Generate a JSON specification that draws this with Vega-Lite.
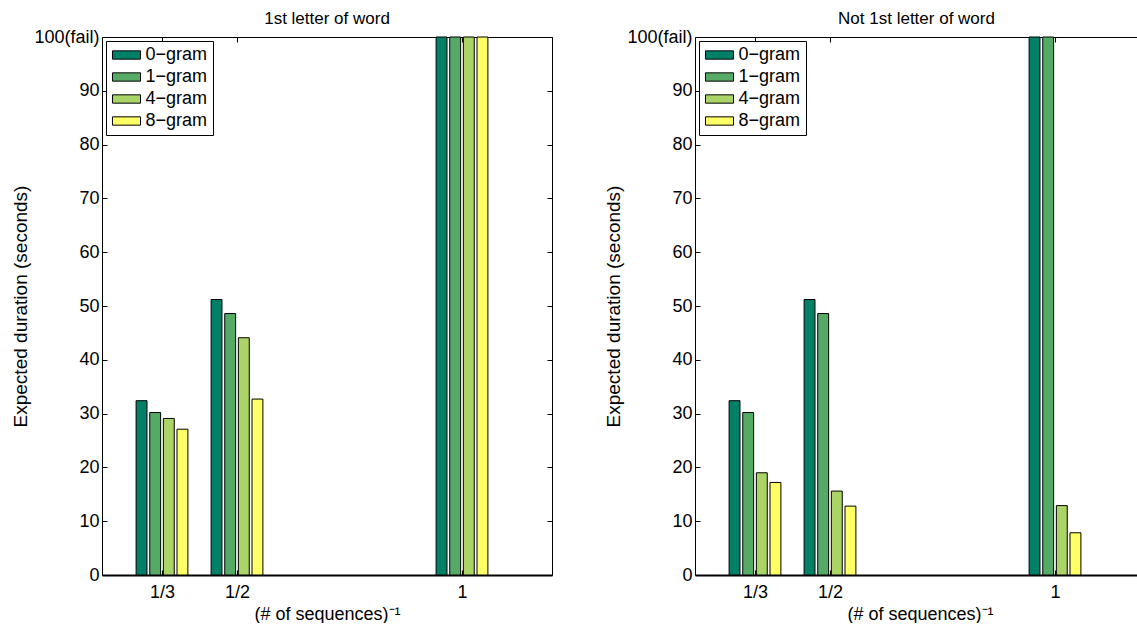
{
  "$schema": "https://vega.github.io/schema/vega-lite/v6.json",
  "background": "white",
  "padding": {"left": 11, "top": 10, "right": 0, "bottom": 0},
  "datasets": {
    "bars": [
      {"panel": "first", "inv_n": 0.333333, "gram": "0−gram", "dur": 32.4},
      {"panel": "first", "inv_n": 0.333333, "gram": "1−gram", "dur": 30.2},
      {"panel": "first", "inv_n": 0.333333, "gram": "4−gram", "dur": 29.1},
      {"panel": "first", "inv_n": 0.333333, "gram": "8−gram", "dur": 27.1},
      {"panel": "first", "inv_n": 0.5, "gram": "0−gram", "dur": 51.2},
      {"panel": "first", "inv_n": 0.5, "gram": "1−gram", "dur": 48.6},
      {"panel": "first", "inv_n": 0.5, "gram": "4−gram", "dur": 44.1},
      {"panel": "first", "inv_n": 0.5, "gram": "8−gram", "dur": 32.7},
      {"panel": "first", "inv_n": 1, "gram": "0−gram", "dur": 100},
      {"panel": "first", "inv_n": 1, "gram": "1−gram", "dur": 100},
      {"panel": "first", "inv_n": 1, "gram": "4−gram", "dur": 100},
      {"panel": "first", "inv_n": 1, "gram": "8−gram", "dur": 100},
      {"panel": "second", "inv_n": 0.333333, "gram": "0−gram", "dur": 32.4},
      {"panel": "second", "inv_n": 0.333333, "gram": "1−gram", "dur": 30.2},
      {"panel": "second", "inv_n": 0.333333, "gram": "4−gram", "dur": 19.0},
      {"panel": "second", "inv_n": 0.333333, "gram": "8−gram", "dur": 17.2},
      {"panel": "second", "inv_n": 0.5, "gram": "0−gram", "dur": 51.2},
      {"panel": "second", "inv_n": 0.5, "gram": "1−gram", "dur": 48.6},
      {"panel": "second", "inv_n": 0.5, "gram": "4−gram", "dur": 15.6},
      {"panel": "second", "inv_n": 0.5, "gram": "8−gram", "dur": 12.8},
      {"panel": "second", "inv_n": 1, "gram": "0−gram", "dur": 100},
      {"panel": "second", "inv_n": 1, "gram": "1−gram", "dur": 100},
      {"panel": "second", "inv_n": 1, "gram": "4−gram", "dur": 12.9},
      {"panel": "second", "inv_n": 1, "gram": "8−gram", "dur": 7.85}
    ]
  },
  "config": {
    "font": "Liberation Sans",
    "view": {"stroke": null},
    "axis": {
      "grid": false,
      "labelFont": "Liberation Sans",
      "labelFontSize": 18,
      "labelColor": "black",
      "titleFont": "Liberation Sans",
      "titleFontSize": 18,
      "titleFontWeight": "normal",
      "titleColor": "black",
      "tickColor": "black",
      "tickWidth": 1,
      "tickSize": -5,
      "domainColor": "black",
      "domainWidth": 1
    },
    "title": {"font": "Liberation Sans", "fontSize": 17, "fontWeight": "normal", "color": "black"},
    "legend": {
      "title": null,
      "orient": "top-left",
      "offset": 4,
      "strokeColor": "black",
      "strokeWidth": 1,
      "fillColor": "white",
      "padding": 5,
      "symbolType": "M-1.65,-0.49H1.65V0.49H-1.65Z",
      "symbolSize": 289,
      "symbolStrokeColor": "black",
      "symbolStrokeWidth": 1,
      "symbolOffset": 6.5,
      "symbolOpacity": 1,
      "labelOffset": 10,
      "labelFont": "Liberation Sans",
      "labelFontSize": 18,
      "labelColor": "black",
      "rowPadding": 4
    }
  },
  "spacing": 51,
  "resolve": {"scale": {"color": "independent"}},
  "hconcat": [
    {
      "width": 450,
      "height": 538,
      "title": {"text": "1st letter of word", "frame": "group", "baseline": "alphabetic", "offset": -13},
      "data": {"name": "bars"},
      "transform": [
        {"filter": "datum.panel == 'first'"},
        {"calculate": "indexof(['0−gram','1−gram','4−gram','8−gram'], datum.gram)", "as": "gi"},
        {"calculate": "datum.inv_n + (datum.gi - 1.5) * 0.0303 - 0.0121", "as": "x0"},
        {"calculate": "datum.x0 + 0.0242", "as": "x1"}
      ],
      "layer": [
        {
          "mark": {"type": "bar", "stroke": "black", "strokeWidth": 1},
          "encoding": {
            "x": {
              "field": "x0", "type": "quantitative",
              "scale": {"domain": [0.2, 1.2], "nice": false, "zero": false},
              "axis": {
                "orient": "bottom", "values": [0.333333, 0.5, 1],
                "labelExpr": "datum.value < 0.4 ? '1/3' : (datum.value < 0.9 ? '1/2' : '1')",
                "title": "(# of sequences)⁻¹", "domainWidth": 2,
                "labelPadding": 13, "titleY": 44, "titleBaseline": "alphabetic"
              }
            },
            "x2": {"field": "x1"},
            "y": {
              "field": "dur", "type": "quantitative",
              "scale": {"domain": [0, 100], "nice": false},
              "axis": {
                "orient": "left", "values": [0, 10, 20, 30, 40, 50, 60, 70, 80, 90, 100],
                "labelExpr": "datum.value == 100 ? '100(fail)' : datum.label",
                "title": "Expected duration (seconds)", "titleFontSize": 19,
                "labelPadding": 8, "titleX": -76, "titleBaseline": "alphabetic"
              }
            },
            "y2": {"datum": 0},
            "color": {
              "field": "gram", "type": "nominal",
              "scale": {"domain": ["0−gram", "1−gram", "4−gram", "8−gram"], "range": ["#008066", "#55aa66", "#aad466", "#ffff66"]}
            }
          }
        },
        {
          "mark": {"type": "point", "opacity": 0},
          "encoding": {
            "x": {
              "field": "x0", "type": "quantitative",
              "scale": {"domain": [0.2, 1.2], "nice": false, "zero": false},
              "axis": {"orient": "top", "values": [0.333333, 0.5, 1], "labels": false, "title": null}
            },
            "y": {
              "field": "dur", "type": "quantitative",
              "scale": {"domain": [0, 100], "nice": false},
              "axis": {"orient": "right", "values": [0, 10, 20, 30, 40, 50, 60, 70, 80, 90, 100], "labels": false, "title": null}
            }
          }
        }
      ],
      "resolve": {"axis": {"x": "independent", "y": "independent"}}
    },
    {
      "width": 443,
      "height": 538,
      "title": {"text": "Not 1st letter of word", "frame": "group", "baseline": "alphabetic", "offset": -13},
      "data": {"name": "bars"},
      "transform": [
        {"filter": "datum.panel == 'second'"},
        {"calculate": "indexof(['0−gram','1−gram','4−gram','8−gram'], datum.gram)", "as": "gi"},
        {"calculate": "datum.inv_n + (datum.gi - 1.5) * 0.0303 - 0.0121", "as": "x0"},
        {"calculate": "datum.x0 + 0.0242", "as": "x1"}
      ],
      "layer": [
        {
          "mark": {"type": "bar", "stroke": "black", "strokeWidth": 1},
          "encoding": {
            "x": {
              "field": "x0", "type": "quantitative",
              "scale": {"domain": [0.2, 1.184444], "nice": false, "zero": false},
              "axis": {
                "orient": "bottom", "values": [0.333333, 0.5, 1],
                "labelExpr": "datum.value < 0.4 ? '1/3' : (datum.value < 0.9 ? '1/2' : '1')",
                "title": "(# of sequences)⁻¹", "domainWidth": 2,
                "labelPadding": 13, "titleY": 44, "titleBaseline": "alphabetic", "titleX": 225, "titleAnchor": "middle"
              }
            },
            "x2": {"field": "x1"},
            "y": {
              "field": "dur", "type": "quantitative",
              "scale": {"domain": [0, 100], "nice": false},
              "axis": {
                "orient": "left", "values": [0, 10, 20, 30, 40, 50, 60, 70, 80, 90, 100],
                "labelExpr": "datum.value == 100 ? '100(fail)' : datum.label",
                "title": "Expected duration (seconds)", "titleFontSize": 19,
                "labelPadding": 8, "titleX": -76, "titleBaseline": "alphabetic"
              }
            },
            "y2": {"datum": 0},
            "color": {
              "field": "gram", "type": "nominal",
              "scale": {"domain": ["0−gram", "1−gram", "4−gram", "8−gram"], "range": ["#008066", "#55aa66", "#aad466", "#ffff66"]}
            }
          }
        },
        {
          "mark": {"type": "point", "opacity": 0},
          "encoding": {
            "x": {
              "field": "x0", "type": "quantitative",
              "scale": {"domain": [0.2, 1.184444], "nice": false, "zero": false},
              "axis": {"orient": "top", "values": [0.333333, 0.5, 1], "labels": false, "title": null}
            },
            "y": {
              "field": "dur", "type": "quantitative",
              "scale": {"domain": [0, 100], "nice": false},
              "axis": null
            }
          }
        }
      ],
      "resolve": {"axis": {"x": "independent", "y": "independent"}}
    }
  ]
}
